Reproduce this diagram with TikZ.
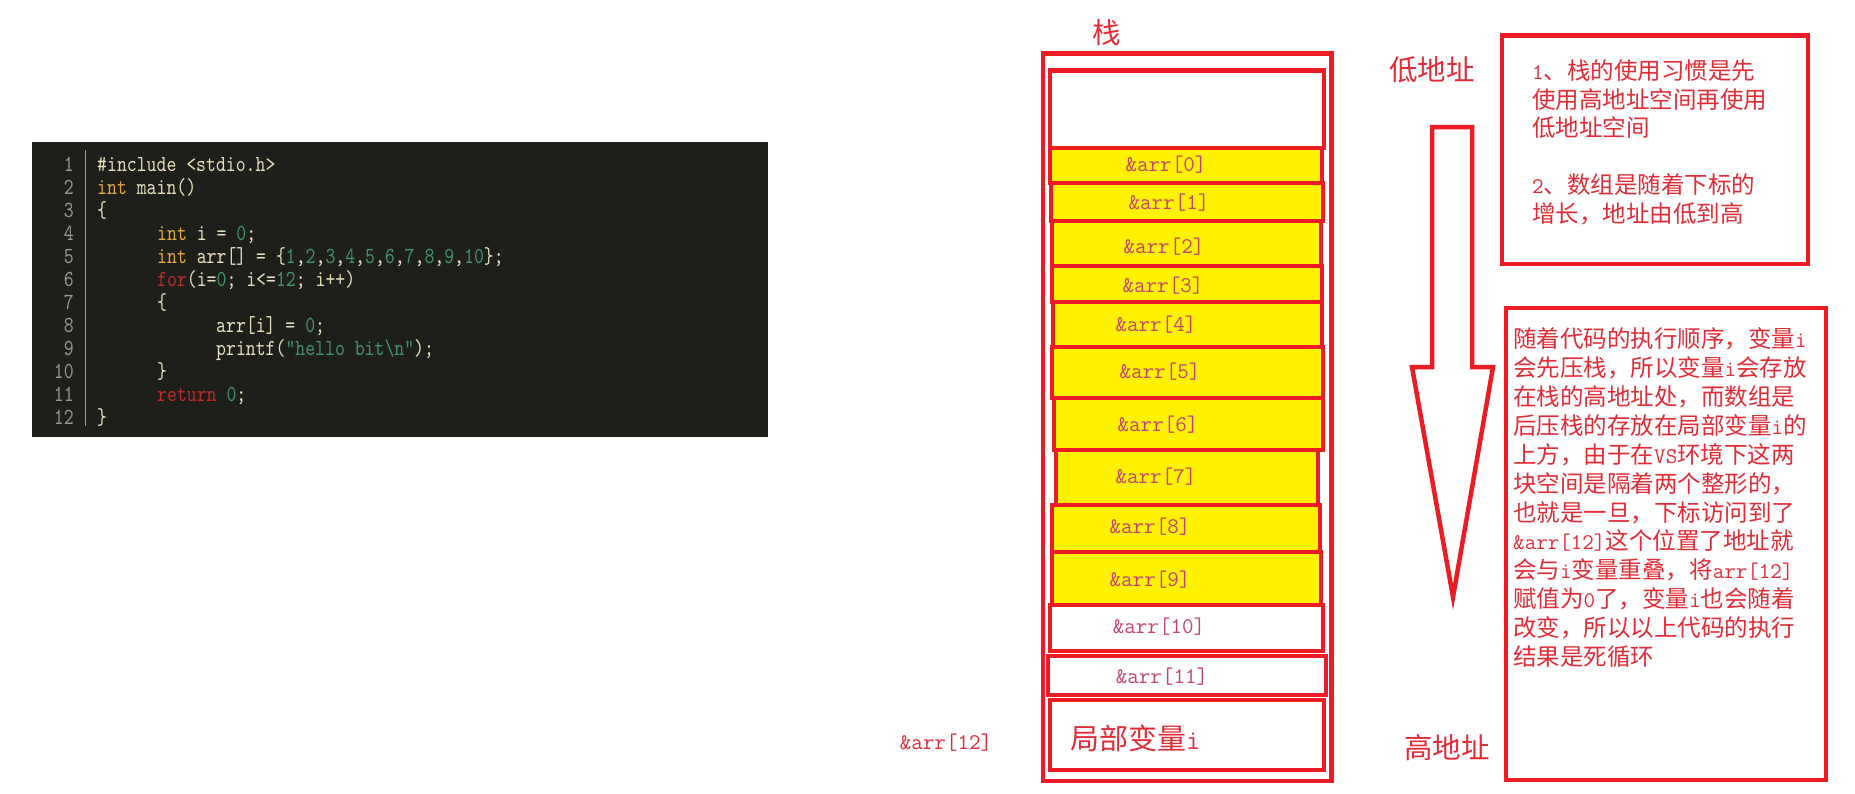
\documentclass[tikz,border=0pt]{standalone}
\usepackage{fontspec}
\newfontfamily\cjk{Noto Sans CJK SC}
\newfontfamily\codefont{lmmono10-regular}[Extension=.otf,FakeStretch=0.82]
\definecolor{bred}{RGB}{237,28,36}
\definecolor{tred}{RGB}{226,44,54}
\definecolor{cyel}{RGB}{255,242,0}
\definecolor{lblc}{RGB}{196,68,112}
\definecolor{codebg}{RGB}{30,30,26}
\definecolor{cpale}{RGB}{228,222,186}
\definecolor{cint}{RGB}{226,168,62}
\definecolor{cgrn}{RGB}{66,148,108}
\definecolor{ckw}{RGB}{190,44,44}
\definecolor{cnum}{RGB}{150,150,150}
\newcommand\lat[1]{{\ttfamily\fontsize{22.4}{28.9}\selectfont #1}}
\newcommand\ci[1]{\textcolor{cint}{#1}}
\newcommand\cg[1]{\textcolor{cgrn}{#1}}
\newcommand\ck[1]{\textcolor{ckw}{#1}}
\begin{document}
\begin{tikzpicture}[x=1pt,y=-1pt,
  redframe/.style={draw=bred,line width=4.5pt},
  cell/.style={draw=bred,line width=4.5pt,fill=cyel},
  wcell/.style={draw=bred,line width=4.5pt,fill=white},
  lbl/.style={inner sep=0pt,text=lblc,font=\ttfamily\fontsize{22.4}{26}\selectfont},
  codeln/.style={inner sep=0pt,anchor=base west,text=cpale,font=\codefont\fontsize{23}{23}\selectfont},
  lnum/.style={inner sep=0pt,anchor=base east,text=cnum,font=\codefont\fontsize{23}{23}\selectfont},
  cjkt/.style={inner sep=0pt,text=tred,font=\cjk\fontsize{23.5}{28.9}\selectfont,align=left},
  bigt/.style={inner sep=0pt,text=tred,font=\cjk\fontsize{28.5}{32}\selectfont}]
\useasboundingbox (0,0) rectangle (1855,793);
\fill[white] (0,0) rectangle (1855,793);

% ---------- code panel ----------
\fill[codebg] (32,142) rectangle (768,437);
\draw[cnum,line width=1pt] (85,150) -- (85,426);
\foreach \k in {1,...,12}{
  \node[lnum] (n\k) at (74,{171+23*(\k-1)}) {\k};
}
\node[codeln] (c1) at (97,171) {\#include <stdio.h>};
\node[codeln] (c2) at (97,194) {\ci{int} main()};
\node[codeln] (c3) at (97,217) {\{};
\node[codeln] (c4) at (157,240) {\ci{int} i = \cg{0};};
\node[codeln] (c5) at (157,263) {\ci{int} arr[] = \{\cg{1},\cg{2},\cg{3},\cg{4},\cg{5},\cg{6},\cg{7},\cg{8},\cg{9},\cg{10}\};};
\node[codeln] (c6) at (157,286) {\ck{for}(i=\cg{0}; i<=\cg{12}; i++)};
\node[codeln] (c7) at (157,309) {\{};
\node[codeln] (c8) at (216,332) {arr[i] = \cg{0};};
\node[codeln] (c9) at (216,355) {printf(\cg{"hello bit\textbackslash n"});};
\node[codeln] (c10) at (157,378) {\}};
\node[codeln] (c11) at (157,401) {\ck{return} \cg{0};};
\node[codeln] (c12) at (97,424) {\}};

% ---------- stack ----------
\node[bigt] (zhan) at (1107,33) {栈};
\draw[redframe] (1043,53.5) rectangle (1331.5,781);
\draw[wcell] (1050,70.5) rectangle (1324,148);
\draw[cell] (1050,148) rectangle (1322,183);
\draw[cell] (1051,183) rectangle (1323,221);
\draw[cell] (1052,221) rectangle (1321,266);
\draw[cell] (1052,266) rectangle (1322,302);
\draw[cell] (1053,302) rectangle (1322,347);
\draw[cell] (1052,347) rectangle (1323,398);
\draw[cell] (1054,398) rectangle (1323,450);
\draw[cell] (1056,450) rectangle (1318,505);
\draw[cell] (1052,505) rectangle (1320,552);
\draw[cell] (1052,552) rectangle (1321,605);
\draw[wcell] (1050,605) rectangle (1323,651);
\draw[wcell] (1048,656) rectangle (1326,695);
\draw[wcell] (1050,700) rectangle (1324,770);

\node[lbl] (a0) at (1166,165) {\&arr[0]};
\node[lbl] (a1) at (1169,203) {\&arr[1]};
\node[lbl] (a2) at (1164,247) {\&arr[2]};
\node[lbl] (a3) at (1163,286) {\&arr[3]};
\node[lbl] (a4) at (1156,325) {\&arr[4]};
\node[lbl] (a5) at (1160,372) {\&arr[5]};
\node[lbl] (a6) at (1158,425) {\&arr[6]};
\node[lbl] (a7) at (1156,477) {\&arr[7]};
\node[lbl] (a8) at (1150,527) {\&arr[8]};
\node[lbl] (a9) at (1150,580) {\&arr[9]};
\node[lbl] (a10) at (1159,627) {\&arr[10]};
\node[lbl] (a11) at (1162,677) {\&arr[11]};
\node[inner sep=0pt,text=tred,font=\cjk\fontsize{29}{32}\selectfont,anchor=west] (ju) at (1070,738) {局部变量{\ttfamily\fontsize{27.6}{32}\selectfont i}};
\node[lbl,text=tred] (a12) at (946,743) {\&arr[12]};

% ---------- address arrow ----------
\node[bigt] (low) at (1432,70) {低地址};
\node[bigt] (high) at (1447,748) {高地址};
\draw[draw=bred,line width=4.5pt,fill=white,line join=miter]
  (1432,127) -- (1472,127) -- (1472,367) -- (1493,367) -- (1453,597) -- (1412,367) -- (1432,367) -- cycle;

% ---------- note boxes ----------
\draw[redframe] (1502,35.5) rectangle (1808,264);
\node[cjkt,font=\cjk\fontsize{23.5}{28.5}\selectfont,anchor=north west] (note1) at (1532,59.5)
  {\lat{1}、栈的使用习惯是先\\使用高地址空间再使用\\低地址空间\\[28.5pt]\lat{2}、数组是随着下标的\\增长，地址由低到高};
\draw[redframe] (1506,308) rectangle (1826,780);
\node[cjkt,anchor=north west] (note2) at (1513,327.5)
  {随着代码的执行顺序，变量\lat{i}\\
   会先压栈，所以变量\lat{i}会存放\\
   在栈的高地址处，而数组是\\
   后压栈的存放在局部变量\lat{i}的\\
   上方，由于在\lat{VS}环境下这两\\
   块空间是隔着两个整形的，\\
   也就是一旦，下标访问到了\\
   \lat{\&arr[12]}这个位置了地址就\\
   会与\lat{i}变量重叠，将\lat{arr[12]}\\
   赋值为\lat{0}了，变量\lat{i}也会随着\\
   改变，所以以上代码的执行\\
   结果是死循环};
\end{tikzpicture}
\end{document}
